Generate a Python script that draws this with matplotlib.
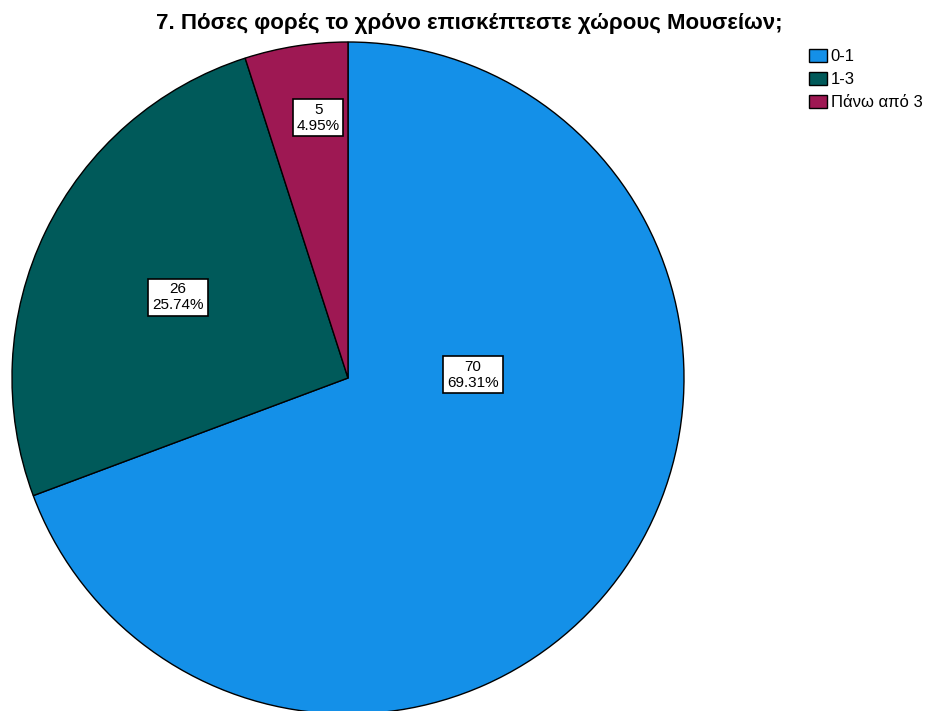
import matplotlib
matplotlib.use("Agg")
import matplotlib.pyplot as plt
from matplotlib.patches import Patch

categories = ["0-1", "1-3", "Πάνω από 3"]
counts = [70, 26, 5]
percents = ["69.31%", "25.74%", "4.95%"]
colors = ["#1490E8", "#005A5A", "#9E1853"]
title = "7. Πόσες φορές το χρόνο επισκέπτεστε χώρους Μουσείων;"

plt.rcParams['font.family'] = ['Liberation Sans', 'DejaVu Sans']

W, H = 939, 711
fig = plt.figure(figsize=(W / 100, H / 100), dpi=100)
cx, cy, r = 348, 378, 336
ax = fig.add_axes([(cx - r) / W, (H - cy - r) / H, 2 * r / W, 2 * r / H])
wedges, _ = ax.pie(counts, colors=colors, startangle=90, counterclock=False,
                   radius=1, wedgeprops=dict(edgecolor="black", linewidth=1))
for w in wedges:
    w.set_clip_on(False)
ax.set_xlim(-1, 1)
ax.set_ylim(-1, 1)
ax.set_aspect("equal")
ax.axis("off")

label_pos = [(0.372, 0.009), (-0.506, 0.241), (-0.089, 0.774)]
for (x, y), c, p in zip(label_pos, counts, percents):
    ax.text(x, y, f"{c}\n{p}", ha="center", va="center", fontsize=11,
            linespacing=1.12,
            bbox=dict(boxstyle="square,pad=0.25", facecolor="white",
                      edgecolor="black", linewidth=1.2))

fig.text(0.5, 1 - 23 / H, title, ha="center", va="center",
         fontsize=16, fontweight="bold")

handles = [Patch(facecolor=col, edgecolor="black", linewidth=1) for col in colors]
fig.legend(handles, categories, loc="upper left",
           bbox_to_anchor=(809 / W, 1 - 49 / H), frameon=False,
           fontsize=12, handlelength=1.1, handleheight=0.85,
           handletextpad=0.2, labelspacing=0.45, borderaxespad=0,
           borderpad=0)

fig.savefig("out.png", dpi=100)
